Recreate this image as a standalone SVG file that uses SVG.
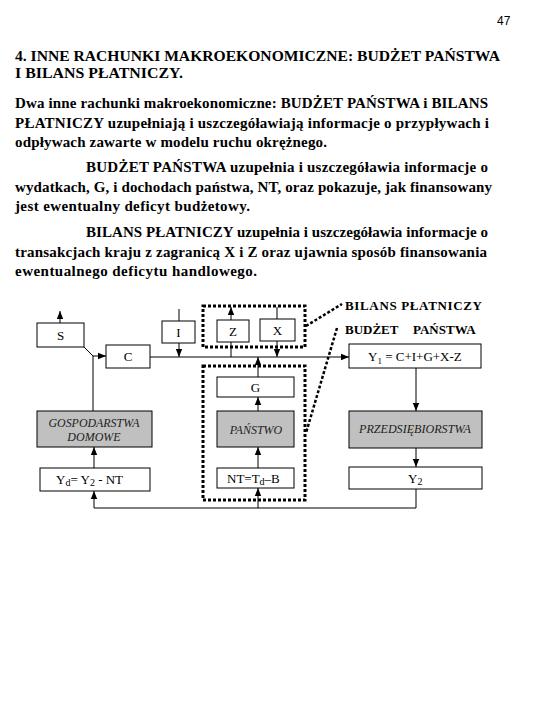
<svg xmlns="http://www.w3.org/2000/svg" width="540" height="720" viewBox="0 0 540 720">
<style>
.t{font-family:"Liberation Serif","Times New Roman",serif;font-weight:bold;font-size:15px;fill:#000}
.lab{font-family:"Liberation Serif","Times New Roman",serif;font-weight:bold;font-size:13px;fill:#000}
.n{font-family:"Liberation Serif","Times New Roman",serif;font-size:13px;fill:#000}
.ni{font-family:"Liberation Serif","Times New Roman",serif;font-size:12px;font-style:italic;fill:#222}
.box{fill:#fff;stroke:#000;stroke-width:1}
.gbox{fill:#c0c0c0;stroke:#000;stroke-width:1}
.dot{fill:none;stroke:#000;stroke-width:3;stroke-dasharray:3 2}
.call{fill:none;stroke:#000;stroke-width:2.5;stroke-dasharray:3 2}
.ln{fill:none;stroke:#000;stroke-width:1}
.ar{fill:none;stroke:#000;stroke-width:1;marker-end:url(#ah)}
</style>
<defs>
<marker id="ah" markerUnits="userSpaceOnUse" markerWidth="8" markerHeight="8" viewBox="0 0 8 8" refX="8" refY="4" orient="auto">
<path d="M0,0.8 L8,4 L0,7.2 Z" fill="#000"/>
</marker>
</defs>
<rect width="540" height="720" fill="#fff"/>
<text x="497" y="25" font-family="Liberation Sans, Arial, sans-serif" font-size="12">47</text>
<g id="title">
<text class="t" x="15" y="61" textLength="485" lengthAdjust="spacingAndGlyphs">4. INNE RACHUNKI MAKROEKONOMICZNE: BUDŻET PAŃSTWA</text>
<text class="t" x="15" y="78" textLength="168" lengthAdjust="spacingAndGlyphs">I BILANS PŁATNICZY.</text>
</g>
<g id="text">
<text class="t" x="15" y="108" textLength="473" lengthAdjust="spacing">Dwa inne rachunki makroekonomiczne: BUDŻET PAŃSTWA i BILANS</text>
<text class="t" x="15" y="128" textLength="474" lengthAdjust="spacing">PŁATNICZY uzupełniają i uszczegóławiają informacje o przypływach i</text>
<text class="t" x="15" y="147" textLength="312" lengthAdjust="spacing">odpływach zawarte w modelu ruchu okrężnego.</text>
<text class="t" x="86" y="172" textLength="402" lengthAdjust="spacing">BUDŻET PAŃSTWA uzupełnia i uszczegóławia informacje o</text>
<text class="t" x="15" y="192" textLength="477" lengthAdjust="spacing">wydatkach, G, i dochodach państwa, NT, oraz pokazuje, jak finansowany</text>
<text class="t" x="15" y="211" textLength="235" lengthAdjust="spacing">jest ewentualny deficyt budżetowy.</text>
<text class="t" x="86" y="237" textLength="402" lengthAdjust="spacing">BILANS PŁATNICZY uzupełnia i uszczegóławia informacje o</text>
<text class="t" x="15" y="257" textLength="472" lengthAdjust="spacing">transakcjach kraju z zagranicą X i Z oraz ujawnia sposób finansowania</text>
<text class="t" x="15" y="276" textLength="242" lengthAdjust="spacing">ewentualnego deficytu handlowego.</text>
</g>
<g id="connectors">
<line class="ar" x1="60" y1="323" x2="60" y2="311"/>
<polyline class="ln" points="84,347 93,356 93,411"/>
<line class="ar" x1="93" y1="356" x2="106" y2="356"/>
<line class="ln" x1="179" y1="321" x2="179" y2="309"/>
<line class="ar" x1="179" y1="343" x2="179" y2="357"/>
<line class="ar" x1="150" y1="357" x2="349" y2="357"/>
<line class="ar" x1="231" y1="320" x2="231" y2="307"/>
<line class="ln" x1="231" y1="342" x2="231" y2="357"/>
<line class="ln" x1="277" y1="319" x2="277" y2="307"/>
<line class="ar" x1="277" y1="341" x2="277" y2="357"/>
<line class="ar" x1="258" y1="377" x2="258" y2="357"/>
<line class="ar" x1="258" y1="411" x2="258" y2="397"/>
<line class="ar" x1="258" y1="468" x2="258" y2="447" stroke-width="2"/>
<line class="ar" x1="258" y1="508" x2="258" y2="488" stroke-width="2"/>
<line class="ar" x1="416" y1="368" x2="416" y2="411"/>
<line class="ar" x1="416" y1="448" x2="416" y2="467"/>
<polyline class="ln" points="416,489 416,508 94,508"/>
<line class="ar" x1="94" y1="508" x2="94" y2="491"/>
<line class="ar" x1="94" y1="468" x2="94" y2="447"/>
<line class="call" x1="306" y1="326" x2="342" y2="304"/>
<line class="call" x1="337" y1="328" x2="306" y2="433"/>
</g>
<g id="bilans-frame"><rect class="dot" x="203" y="306" width="102" height="41"/></g>
<g id="budzet-frame"><rect class="dot" x="203" y="366" width="102" height="134"/></g>
<g id="label-bilans"><text class="lab" x="345" y="310" textLength="137" lengthAdjust="spacing">BILANS PŁATNICZY</text></g>
<g id="label-budzet"><text class="lab" x="345" y="334"><tspan x="345">BUDŻET</tspan><tspan x="413">PAŃSTWA</tspan></text></g>
<g id="S"><rect class="box" x="37" y="323" width="47" height="24"/><text class="n" x="60.5" y="340" text-anchor="middle" font-size="14">S</text></g>
<g id="C"><rect class="box" x="106" y="345" width="44" height="23"/><text class="n" x="128" y="361" text-anchor="middle" font-size="14">C</text></g>
<g id="I"><rect class="box" x="162" y="321" width="33" height="22"/><text class="n" x="178.5" y="337" text-anchor="middle" font-size="14">I</text></g>
<g id="Z"><rect class="box" x="217" y="320" width="32" height="22"/><text class="n" x="233" y="336" text-anchor="middle" font-size="14">Z</text></g>
<g id="X"><rect class="box" x="260" y="319" width="35" height="22"/><text class="n" x="277.5" y="335" text-anchor="middle" font-size="14">X</text></g>
<g id="Y1"><rect class="box" x="349" y="344" width="132" height="24"/><text class="n" x="368" y="361">Y<tspan font-size="9" dy="3">1</tspan><tspan dy="-3"> = C+I+G+X-Z</tspan></text></g>
<g id="G"><rect class="box" x="217" y="377" width="77" height="20"/><text class="n" x="255.5" y="392" text-anchor="middle" font-size="14">G</text></g>
<g id="GOSPODARSTWA"><rect class="gbox" x="37" y="411" width="115" height="36"/><text class="ni" x="94" y="427" text-anchor="middle" textLength="91" lengthAdjust="spacingAndGlyphs">GOSPODARSTWA</text><text class="ni" x="94" y="441" text-anchor="middle">DOMOWE</text></g>
<g id="PANSTWO"><rect class="gbox" x="217" y="411" width="77" height="36"/><text class="ni" x="256" y="434" text-anchor="middle">PAŃSTWO</text></g>
<g id="PRZEDSIEBIORSTWA"><rect class="gbox" x="349" y="411" width="133" height="37"/><text class="ni" x="415" y="433" text-anchor="middle" textLength="112" lengthAdjust="spacingAndGlyphs">PRZEDSIĘBIORSTWA</text></g>
<g id="Yd"><rect class="box" x="40" y="468" width="110" height="23"/><text class="n" x="56" y="484" font-size="14">Y<tspan font-size="10" dy="2">d</tspan><tspan dy="-2">= Y</tspan><tspan font-size="10" dy="2">2</tspan><tspan dy="-2"> - NT</tspan></text></g>
<g id="NT"><rect class="box" x="217" y="468" width="77" height="20"/><text class="n" x="227" y="483" font-size="14">NT=T<tspan font-size="10" dy="2">d</tspan><tspan dy="-2">–B</tspan></text></g>
<g id="Y2"><rect class="box" x="349" y="467" width="133" height="22"/><text class="n" x="408" y="483" font-size="14">Y<tspan font-size="10" dy="2">2</tspan></text></g>
</svg>
